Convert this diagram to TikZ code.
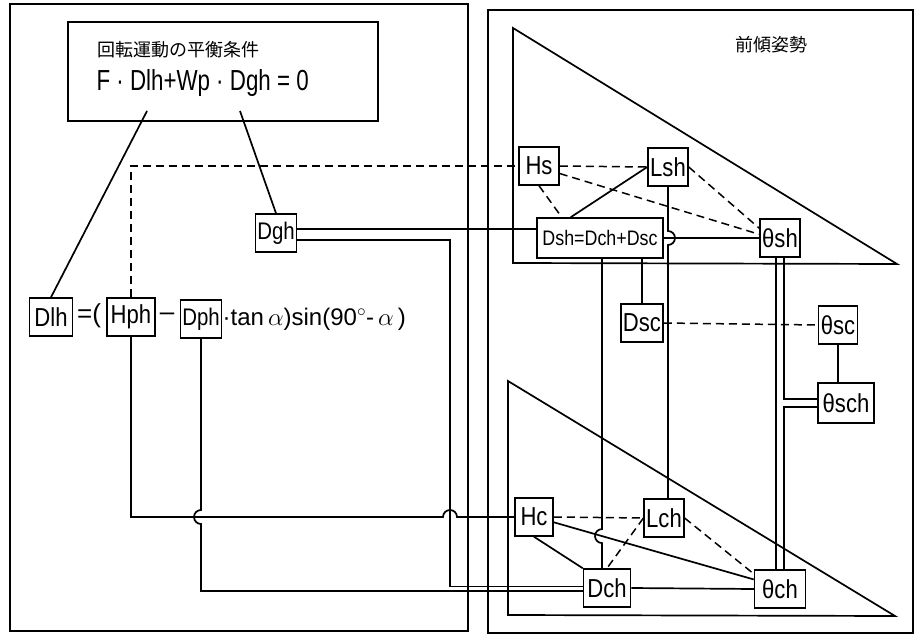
\documentclass[tikz,border=0pt]{standalone}
\usepackage{fontspec}
\setmainfont{Liberation Sans}
\newfontfamily\jafont{Noto Sans CJK JP}
\newfontfamily\narrowfont[FakeStretch=0.77]{Liberation Sans}
\newfontfamily\boxfont[FakeStretch=0.85]{Liberation Sans}
\usetikzlibrary{calc}

\begin{document}
\begin{tikzpicture}[
    x=1pt, y=-1pt,
    varbox/.style={draw, line width=1.5pt, inner xsep=2pt, inner ysep=0pt,
      minimum width=38pt, minimum height=38pt,
      font=\boxfont\fontsize{26}{28}\selectfont},
    link/.style={line width=1.7pt},
    hint/.style={line width=1.5pt, dash pattern=on 8pt off 5pt},
    frame/.style={line width=1.7pt}
  ]
  \path[use as bounding box, fill=white] (0,0) rectangle (915,636);

  % panels and triangles
  \draw[frame] (10,4) rectangle (468,631);
  \draw[frame] (488,10) rectangle (913,633);
  \draw[frame] (68,22) rectangle (378,121);
  \draw[frame] (513,28) -- (513,263) -- (897,264) -- cycle;
  \draw[frame] (508,381) -- (508,615) -- (895,616) -- cycle;

  \node[font=\jafont\fontsize{18}{20}\selectfont, anchor=west] (title) at (94,50) {回転運動の平衡条件};
  \node[font=\narrowfont\fontsize{29}{31}\selectfont, anchor=west] (balance) at (93,83) {F · Dlh+Wp · Dgh = 0};
  \node[font=\jafont\fontsize{18}{20}\selectfont] (posture) at (771,45) {前傾姿勢};

  \node[varbox, minimum width=43pt] (Dlh) at (51,317) {Dlh};
  \node[font=\fontsize{26}{28}\selectfont] (eqopen) at (89,316) {=(};
  \node[varbox, minimum width=48pt] (Hph) at (131,317) {Hph};
  \node[font=\fontsize{26}{28}\selectfont] (minus) at (167,317) {--};
  \node[varbox, font=\boxfont\fontsize{24}{26}\selectfont] (Dph) at (201,319) {Dph};
  \node[anchor=west, inner sep=0pt, font=\fontsize{24}{26}\selectfont] (trig) at (Dph.east)
    {·tan\,$\alpha$)sin(90$^{\circ}$-\,$\alpha$\,)};
  \node[varbox, font=\boxfont\fontsize{24}{26}\selectfont] (Dgh) at (276,233) {Dgh};

  \node[varbox, minimum width=40pt] (Hs) at (539,166) {Hs};
  \node[varbox, minimum width=40pt] (Lsh) at (668,167) {Lsh};
  \node[varbox, minimum width=126pt, minimum height=40pt, font=\boxfont\fontsize{21}{23}\selectfont] (Dsh) at (600,238) {Dsh=Dch+Dsc};
  \node[varbox, minimum width=39pt] (tsh) at (780,238) {θsh};
  \node[varbox] (Dsc) at (642,323) {Dsc};
  \node[varbox, minimum width=39pt] (tsc) at (838,325) {θsc};
  \node[varbox, minimum width=56pt, minimum height=40pt] (tsch) at (846,403) {θsch};
  \node[varbox] (Hc) at (534,517) {Hc};
  \node[varbox, minimum width=39pt] (Lch) at (664,518) {Lch};
  \node[varbox, minimum width=47pt] (Dch) at (607,588) {Dch};
  \node[varbox, minimum width=51pt] (tch) at (780,589) {θch};

  % left half
  \coordinate (fDlh) at (147,111);
  \coordinate (fDgh) at (240,111);
  \coordinate (ghturn) at (450,0);
  \draw[link] (fDlh) -- (Dlh.north);
  \draw[link] (fDgh) -- (Dgh.north);
  \draw[hint] (Hph.north) |- (Hs.west);
  \draw[link] ([yshift=4pt]Dgh.east) -- ([yshift=4pt]Dgh.east -| Dsh.west);
  \draw[link] ([yshift=-7pt]Dgh.east) -| ([yshift=1.5pt]ghturn |- Dch.west) -- ([yshift=1.5pt]Dch.west);
  \coordinate (jA) at (Dph.south |- Hc.west);
  \draw[link] (Dph.south) -- ([yshift=7pt]jA) arc[start angle=90, end angle=270, radius=7pt]
    |- ([yshift=-3pt]Dch.west);
  \coordinate (jB) at (ghturn |- Hc.west);
  \draw[link] (Hph.south) |- ([xshift=-7pt]jB) arc[start angle=180, end angle=0, radius=7pt] -- (Hc.west);

  % upper triangle
  \draw[hint] (Hs.east) -- (Lsh.west);
  \draw[hint] (Hs.-20) -- (tsh.170);
  \draw[hint] (Hs.south) -- ($(Dsh.north west)!0.2!(Dsh.north east)$);
  \draw[link] (Lsh.west) -- ($(Dsh.north west)!0.27!(Dsh.north east)$);
  \draw[hint] (Lsh.east) -- (tsh.155);
  \draw[link] (Dsh.east) -- (tsh.west);
  \coordinate (jC) at (Lsh.south |- Dsh.east);
  \draw[link] (Lsh.south) -- ([yshift=7pt]jC) arc[start angle=90, end angle=-90, radius=7pt]
    -- (Lsh.south |- Lch.north);
  \coordinate (jD) at (intersection cs: first line={(Hc.-15)--(tch.160)},
    second line={([xshift=-5pt]Dch.north)--([xshift=-5pt]Dch.north |- Dsh.south)});
  \draw[link] ([xshift=-5pt]Dch.north |- Dsh.south) -- ([yshift=7pt]jD)
    arc[start angle=90, end angle=270, radius=7pt] -- ([xshift=-5pt]Dch.north);
  \draw[link] (Dsc.north |- Dsh.south) -- (Dsc.north);
  \draw[hint] (Dsc.east) -- (tsc.west);
  \draw[link] (tsc.south) -- (tsc.south |- tsch.north);
  \draw[link] ([xshift=-4pt]tsh.south) -- ([xshift=-4pt]tch.north);
  \draw[link] ([xshift=4pt]tsh.south) |- ([yshift=4pt]tsch.west);
  \draw[link] ([yshift=-4pt]tsch.west) -| ([xshift=4pt]tch.north);

  % lower triangle
  \draw[hint] (Hc.east) -- (Lch.west);
  \draw[link] (Hc.-15) -- (tch.160);
  \draw[link] (Hc.south) -- (Dch.north west);
  \draw[hint] (Lch.west) -- (Dch.north);
  \draw[hint] (Lch.east) -- (tch.150);
  \draw[link] (Dch.east) -- (tch.west);
\end{tikzpicture}
\end{document}
